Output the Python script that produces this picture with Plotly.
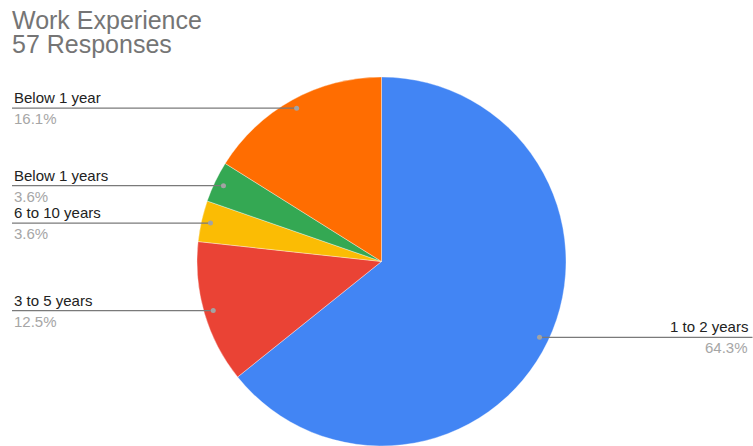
import math
import plotly.graph_objects as go

# ---- data ----
labels = ["1 to 2 years", "3 to 5 years", "6 to 10 years", "Below 1 years", "Below 1 year"]
percents = [64.3, 12.5, 3.6, 3.6, 16.1]
title_line1 = "Work Experience"
title_line2 = "57 Responses"

# ---- styles ----
colors = ["#4285F4", "#EA4335", "#FBBC04", "#34A853", "#FF6D01"]
W, H = 753, 446
FONT = "Arial, Liberation Sans, sans-serif"

# pie geometry in pixels
cx_px, cy_px, R = 381.5, 261.5, 184.5
dom_x = [(cx_px - R) / W, (cx_px + R) / W]
dom_y = [(H - cy_px - R) / H, (H - cy_px + R) / H]

fig = go.Figure(go.Pie(
    labels=labels,
    values=percents,
    sort=False,
    direction="clockwise",
    rotation=0,
    marker=dict(colors=colors, line=dict(color="rgba(255,255,255,0.6)", width=0.6)),
    textinfo="none",
    hoverinfo="label+percent",
    domain=dict(x=dom_x, y=dom_y),
    showlegend=False,
))

shapes = []
annotations = []
total = sum(percents)
cum = 0.0
for lab, v in zip(labels, percents):
    theta = 2 * math.pi * (cum + v / 2) / total
    cum += v
    px = cx_px + 0.95 * R * math.sin(theta)
    py = cy_px - 0.95 * R * math.cos(theta)
    xp = px / W
    yp = (H - py) / H
    right = math.sin(theta) > 0
    x_edge = (W - 0.5) / W if right else 12 / W
    shapes.append(dict(type="line", xref="paper", yref="paper",
                       x0=x_edge, x1=xp, y0=yp, y1=yp,
                       line=dict(color="#7a7a7a", width=1.2)))
    shapes.append(dict(type="circle", xref="paper", yref="paper",
                       xsizemode="pixel", ysizemode="pixel",
                       xanchor=xp, yanchor=yp, x0=-2.5, x1=2.5, y0=-2.5, y1=2.5,
                       fillcolor="#a3a3a3", line=dict(width=0)))
    tx = (W - 3) / W if right else 12 / W
    xa = "right" if right else "left"
    annotations.append(dict(x=tx, y=yp, xref="paper", yref="paper", text=lab,
                            showarrow=False, xanchor=xa, yanchor="middle", yshift=10.5,
                            font=dict(family=FONT, size=15, color="#222222")))
    annotations.append(dict(x=tx, y=yp, xref="paper", yref="paper",
                            text=f"{v:.1f}%",
                            showarrow=False, xanchor=xa, yanchor="middle", yshift=-10.5,
                            font=dict(family=FONT, size=15, color="#a6a6a6")))

annotations.append(dict(x=10 / W, y=1 - 20.5 / H, xref="paper", yref="paper", text=title_line1,
                        showarrow=False, xanchor="left", yanchor="middle",
                        font=dict(family=FONT, size=25, color="#757575")))
annotations.append(dict(x=10 / W, y=1 - 44 / H, xref="paper", yref="paper", text=title_line2,
                        showarrow=False, xanchor="left", yanchor="middle",
                        font=dict(family=FONT, size=25, color="#757575")))

fig.update_layout(
    width=W, height=H, autosize=False,
    margin=dict(l=0, r=0, t=0, b=0),
    paper_bgcolor="white", plot_bgcolor="white",
    shapes=shapes, annotations=annotations,
)

fig.write_html("out.html", config={"displayModeBar": False},
               post_script="document.body.style.margin='0';")
